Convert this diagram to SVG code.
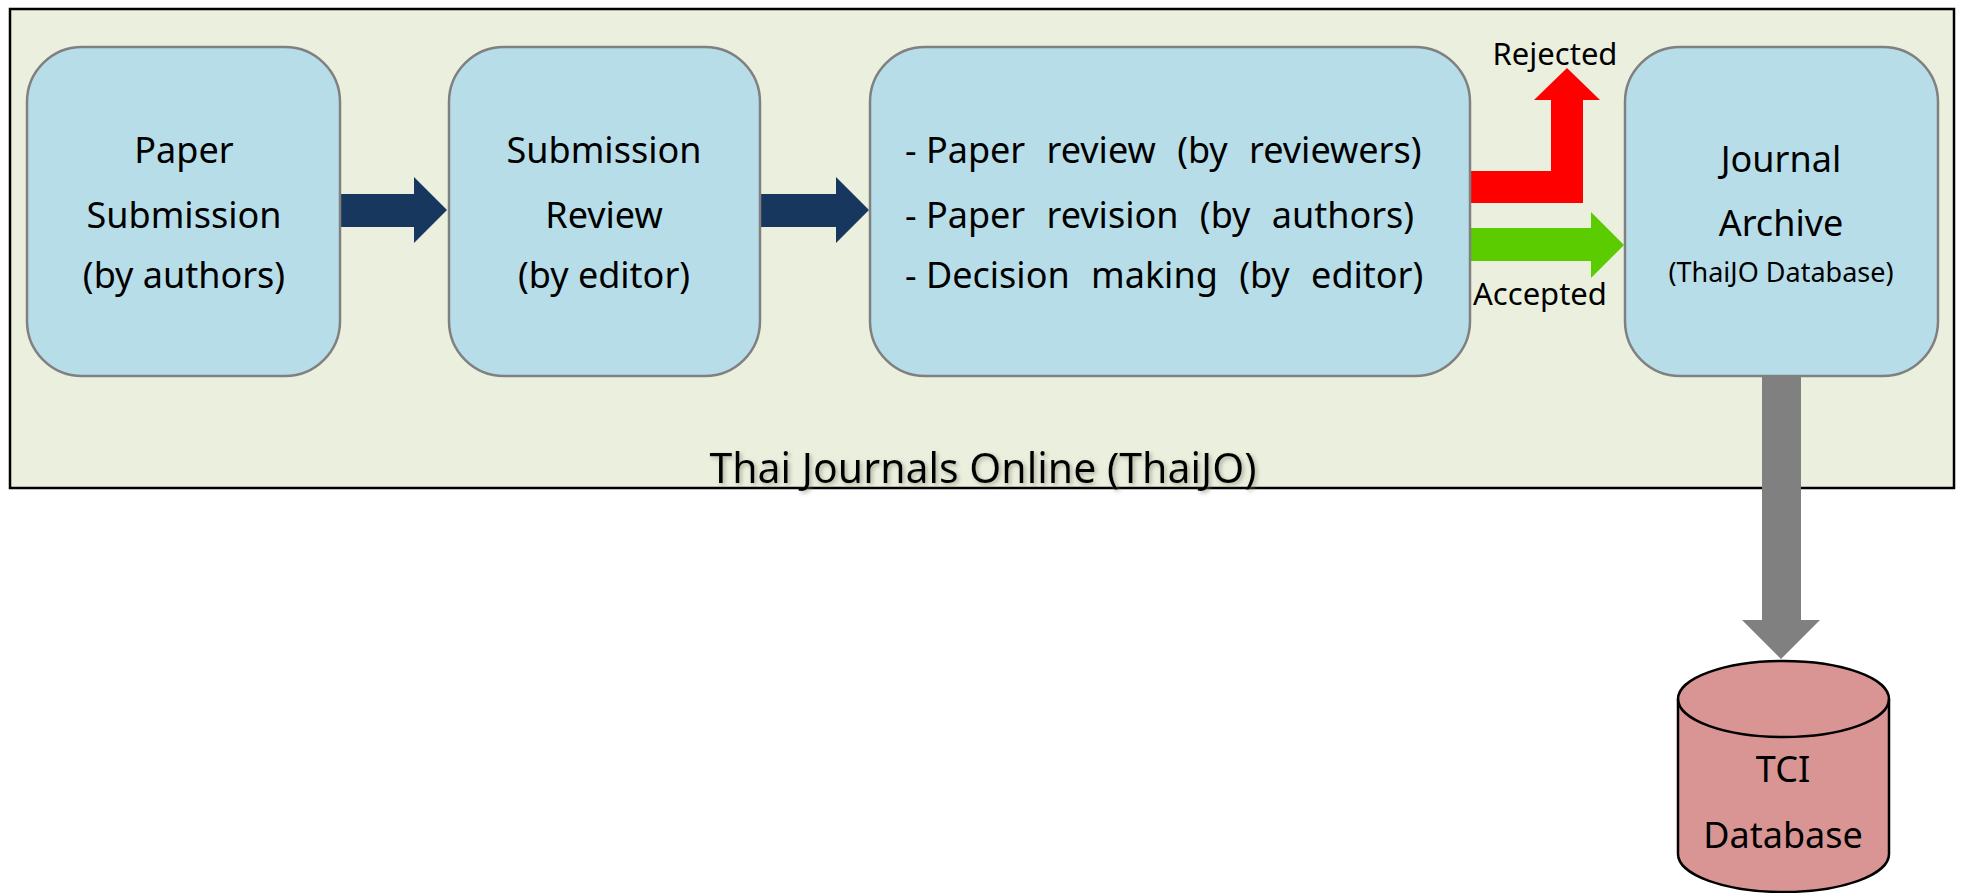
<svg xmlns="http://www.w3.org/2000/svg" width="1961" height="893" viewBox="0 0 1961 893">
<defs>
<style>
.box{fill:#B7DDE8;stroke:#808080;stroke-width:2.5}
.t{font-family:"Noto Sans","Open Sans","DejaVu Sans",sans-serif;fill:#000}
.c{text-anchor:middle}
.ws{word-spacing:12px}
</style>
<filter id="sh" x="-5%" y="-30%" width="110%" height="160%">
<feDropShadow dx="2" dy="2" stdDeviation="2" flood-color="#808070" flood-opacity="0.6"/>
</filter>
</defs>
<rect width="1961" height="893" fill="#FFFFFF"/>
<g id="thaijo-container">
<rect x="10" y="9" width="1944" height="479" fill="#EBF0DE" stroke="#000" stroke-width="2.5"/>
<text class="t c" x="983" y="483" font-size="41" filter="url(#sh)">Thai Journals Online (ThaiJO)</text>
</g>
<g id="connectors">
<polygon fill="#17375E" points="340,194 414,194 414,177 447,210 414,243 414,227 340,227"/>
<polygon fill="#17375E" points="760,194 836,194 836,177 869,210 836,243 836,227 760,227"/>
<polygon fill="#FF0000" points="1470,171 1551,171 1551,100 1534,100 1567,68 1600,100 1583,100 1583,203 1470,203"/>
<polygon fill="#5BCC00" points="1467,228 1591,228 1591,212 1624,245 1591,278 1591,261 1467,261"/>
<polygon fill="#808080" points="1762,376 1801,376 1801,620 1820,620 1781,659 1742,620 1762,620"/>
<text class="t c" x="1555" y="65" font-size="31">Rejected</text>
<text class="t c" x="1540" y="305" font-size="31">Accepted</text>
</g>
<g id="paper-submission">
<rect class="box" x="27" y="47" width="313" height="329" rx="55" ry="55"/>
<text class="t c" x="184" y="163" font-size="36">Paper</text>
<text class="t c" x="184" y="228" font-size="36">Submission</text>
<text class="t c" x="184" y="288" font-size="36">(by authors)</text>
</g>
<g id="submission-review">
<rect class="box" x="449" y="47" width="311" height="329" rx="55" ry="55"/>
<text class="t c" x="604" y="163" font-size="36">Submission</text>
<text class="t c" x="604" y="228" font-size="36">Review</text>
<text class="t c" x="604" y="288" font-size="36">(by editor)</text>
</g>
<g id="review-process">
<rect class="box" x="870" y="47" width="600" height="329" rx="55" ry="55"/>
<text class="t" x="905" y="163" font-size="36">- <tspan class="ws">Paper review (by reviewers)</tspan></text>
<text class="t" x="905" y="228" font-size="36">- <tspan class="ws">Paper revision (by authors)</tspan></text>
<text class="t" x="905" y="288" font-size="36">- <tspan class="ws">Decision making (by editor)</tspan></text>
</g>
<g id="journal-archive">
<rect class="box" x="1625" y="47" width="313" height="329" rx="55" ry="55"/>
<text class="t c" x="1781" y="172" font-size="36">Journal</text>
<text class="t c" x="1781" y="236" font-size="36">Archive</text>
<text class="t c" x="1781" y="282" font-size="27">(ThaiJO Database)</text>
</g>
<g id="tci-database">
<path d="M1678,699 L1678,854 A105.5,38 0 0 0 1889,854 L1889,699 A105.5,38 0 0 0 1678,699 Z" fill="#D99594" stroke="#000" stroke-width="2.5"/>
<path d="M1678,699 A105.5,38 0 0 0 1889,699" fill="none" stroke="#000" stroke-width="2.5"/>
<text class="t c" x="1783" y="782" font-size="36">TCI</text>
<text class="t c" x="1783" y="848" font-size="36">Database</text>
</g>
</svg>
